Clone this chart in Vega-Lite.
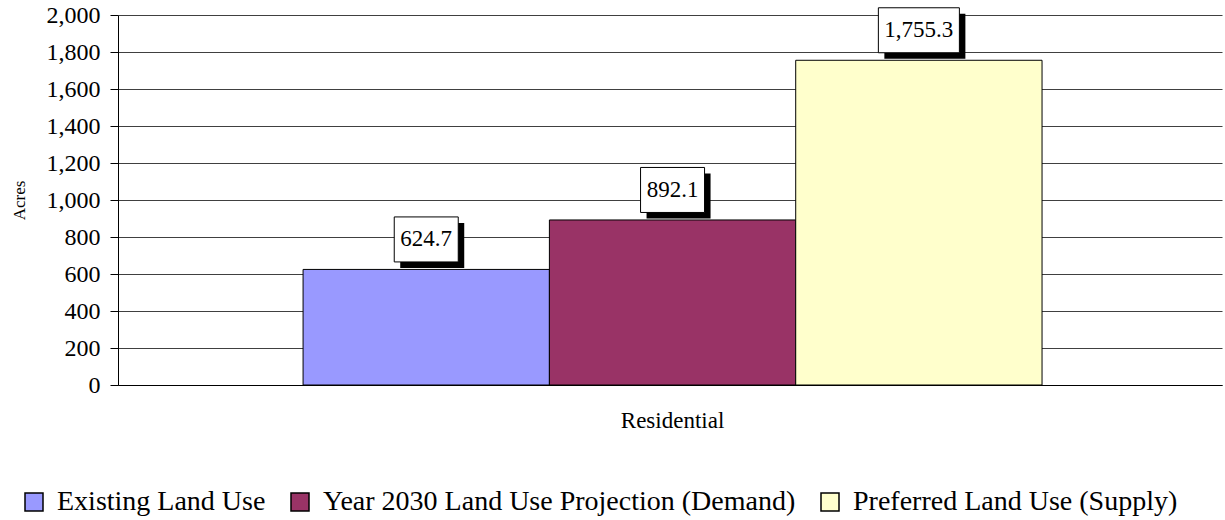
{
  "$schema": "https://vega.github.io/schema/vega-lite/v6.json",
  "width": 1104,
  "height": 370,
  "autosize": "none",
  "padding": {"left": 118, "top": 15, "right": 3, "bottom": 135},
  "background": "white",
  "config": {"view": {"stroke": null}, "font": "Liberation Serif"},
  "data": {
    "values": [
      {"category": "Residential", "series": "Existing Land Use", "value": 624.7},
      {"category": "Residential", "series": "Year 2030 Land Use Projection (Demand)", "value": 892.1},
      {"category": "Residential", "series": "Preferred Land Use (Supply)", "value": 1755.3}
    ]
  },
  "encoding": {
    "x": {
      "field": "category",
      "type": "nominal",
      "scale": {"paddingInner": 0, "paddingOuter": 0.247, "align": 0.507},
      "axis": {
        "title": null,
        "labelAngle": 0,
        "labelFontSize": 23,
        "labelFont": "Liberation Serif",
        "labelColor": "black",
        "labelPadding": 24,
        "ticks": false,
        "domainColor": "black",
        "domainWidth": 1
      }
    },
    "xOffset": {
      "field": "series",
      "type": "nominal",
      "sort": ["Existing Land Use", "Year 2030 Land Use Projection (Demand)", "Preferred Land Use (Supply)"],
      "scale": {"paddingInner": 0, "paddingOuter": 0}
    },
    "y": {
      "field": "value",
      "type": "quantitative",
      "scale": {"domain": [0, 2000]},
      "axis": {
        "values": [0, 200, 400, 600, 800, 1000, 1200, 1400, 1600, 1800, 2000],
        "format": ",.0f",
        "title": "Acres",
        "titleFont": "Liberation Serif",
        "titleFontSize": 17,
        "titleFontWeight": "normal",
        "titleColor": "black",
        "titlePadding": 18,
        "labelFont": "Liberation Serif",
        "labelFontSize": 24,
        "labelColor": "black",
        "labelPadding": 10,
        "labelOverlap": false,
        "tickSize": 8,
        "tickColor": "black",
        "domainColor": "black",
        "grid": true,
        "gridColor": "#404040",
        "gridWidth": 1
      }
    }
  },
  "layer": [
    {
      "mark": {"type": "bar", "stroke": "black", "strokeWidth": 1},
      "encoding": {
        "color": {
          "field": "series",
          "type": "nominal",
          "scale": {
            "domain": ["Existing Land Use", "Year 2030 Land Use Projection (Demand)", "Preferred Land Use (Supply)"],
            "range": ["#9999FF", "#993366", "#FFFFCC"]
          },
          "legend": {
            "title": null,
            "orient": "none",
            "direction": "horizontal",
            "legendX": -98,
            "legendY": 473,
            "padding": 0,
            "symbolType": "square",
            "symbolSize": 324,
            "symbolStrokeColor": "black",
            "symbolStrokeWidth": 1.5,
            "symbolOpacity": 1,
            "labelFont": "Liberation Serif",
            "labelFontSize": 28,
            "labelColor": "black",
            "labelOffset": 9,
            "columnPadding": 20,
            "labelLimit": 700
          }
        }
      }
    },
    {
      "mark": {"type": "point", "filled": true, "fill": "black", "strokeWidth": 0, "size": 4096, "yOffset": -30, "opacity": 1},
      "encoding": {
        "shape": {
          "condition": {"test": "datum.value >= 1000", "value": "M-1.0785,-0.5155H1.4535V0.8905H-1.0785Z"},
          "value": "M-0.8125,-0.5155H1.1875V0.8905H-0.8125Z"
        }
      }
    },
    {
      "mark": {"type": "point", "filled": true, "fill": "white", "stroke": "black", "strokeWidth": 1, "size": 4096, "yOffset": -30, "opacity": 1},
      "encoding": {
        "shape": {
          "condition": {"test": "datum.value >= 1000", "value": "M-1.266,-0.703H1.266V0.703H-1.266Z"},
          "value": "M-1,-0.703H1V0.703H-1Z"
        }
      }
    },
    {
      "mark": {"type": "text", "yOffset": -30, "fontSize": 23, "font": "Liberation Serif", "color": "black", "baseline": "middle", "align": "center"},
      "encoding": {
        "text": {"field": "value", "type": "quantitative", "format": ",.1f"}
      }
    }
  ]
}
